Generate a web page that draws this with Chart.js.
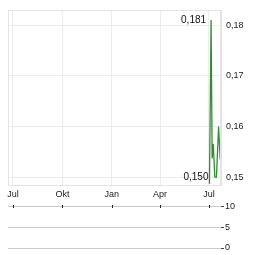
<!DOCTYPE html>
<html><head><meta charset="utf-8">
<script src="https://cdn.jsdelivr.net/npm/chart.js@4/dist/chart.umd.min.js"></script>
<style>
html,body{margin:0;padding:0;background:#fff;width:264px;height:255px;overflow:hidden}
#c1{position:absolute;left:0;top:0}
#c2{position:absolute;left:0;top:200px}
</style></head><body>
<canvas id="c1" width="264" height="202"></canvas>
<canvas id="c2" width="264" height="55"></canvas>
<script>
// --- data (x in days since first Jul 1) ---
const days   = [366, 369, 371, 373, 376, 379, 383, 386];
const prices = [0.1487, 0.181, 0.1537, 0.1566, 0.150, 0.150, 0.160, 0.1535];
const volume = [0, 0, 0, 0, 0, 0, 0, 0];
const xTickDays   = [0, 92, 184, 274, 365];
const xTickLabels = ['Jul', 'Okt', 'Jan', 'Apr', 'Jul'];
const yTicks   = [0.15, 0.16, 0.17, 0.18];
const volTicks = [0, 5, 10];
const highDay = 369, highValue = 0.181;
const lowDay  = 366, lowValue  = 0.150;

const FONT = 'Liberation Sans, Arial, sans-serif';
const fmt = (v, d) => v.toFixed(d).replace('.', ',');
const X_MIN = -9.3, X_MAX = 387.5;

const framePlugin = {
  id: 'frame',
  afterDraw(chart) {
    const a = chart.chartArea, ctx = chart.ctx;
    ctx.save();
    ctx.strokeStyle = '#e4e4e4';
    ctx.lineWidth = 1;
    ctx.strokeRect(Math.round(a.left) + 0.5, Math.round(a.top) + 0.5,
                   Math.round(a.right - a.left) - 1, Math.round(a.bottom - a.top));
    ctx.restore();
  }
};
const labelPlugin = {
  id: 'hl',
  afterDatasetsDraw(chart) {
    const ctx = chart.ctx, xs = chart.scales.x, ys = chart.scales.y;
    ctx.save();
    ctx.font = '10px ' + FONT;
    ctx.fillStyle = '#111';
    ctx.textAlign = 'right';
    ctx.textBaseline = 'middle';
    ctx.fillText(fmt(highValue, 3), xs.getPixelForValue(highDay) - 5, ys.getPixelForValue(highValue));
    ctx.fillText(fmt(lowValue, 3), xs.getPixelForValue(lowDay) - 1, ys.getPixelForValue(lowValue));
    ctx.restore();
  }
};

new Chart(document.getElementById('c1'), {
  type: 'line',
  data: {
    datasets: [{
      data: days.map((d, i) => ({x: d, y: prices[i]})),
      borderColor: '#2f8f2f',
      borderWidth: 1.3,
      pointRadius: 0,
      tension: 0,
      fill: false
    }]
  },
  options: {
    responsive: false, animation: false,
    layout: {padding: {top: 7, left: 8, right: 0, bottom: 0}},
    plugins: {legend: {display: false}, tooltip: {enabled: false}},
    scales: {
      x: {
        type: 'linear', min: X_MIN, max: X_MAX,
        afterBuildTicks: s => { s.ticks = xTickDays.map(v => ({value: v})); },
        afterFit: s => { s.height = 17; },
        grid: {color: '#ececec', drawTicks: false},
        border: {color: '#e4e4e4'},
        ticks: {padding: 4, maxRotation: 0, autoSkip: false, color: '#222',
                font: {size: 9, family: FONT},
                callback: (v, i) => xTickLabels[i]}
      },
      y: {
        position: 'right', min: 0.14845, max: 0.1829,
        afterBuildTicks: s => { s.ticks = yTicks.map(v => ({value: v})); },
        afterFit: s => { s.width = 43; },
        grid: {color: '#ececec', drawTicks: false},
        border: {color: '#e4e4e4'},
        ticks: {padding: 5, color: '#222', font: {size: 9, family: FONT},
                callback: v => fmt(v, 2)}
      }
    }
  },
  plugins: [framePlugin, labelPlugin]
});

const volTickPlugin = {
  id: 'vt',
  afterDraw(chart) {
    const ctx = chart.ctx, xs = chart.scales.x, a = chart.chartArea;
    ctx.save();
    ctx.fillStyle = '#222';
    xTickDays.forEach(d => {
      const px = Math.round(xs.getPixelForValue(d));
      ctx.fillRect(px, Math.round(a.top) - 1, 1, 3);
    });
    ctx.restore();
  }
};

new Chart(document.getElementById('c2'), {
  type: 'bar',
  data: {
    datasets: [{
      data: days.map((d, i) => ({x: d, y: volume[i]})),
      backgroundColor: '#2f8f2f'
    }]
  },
  options: {
    responsive: false, animation: false,
    layout: {padding: {top: 6, left: 8, right: 0, bottom: 7}},
    plugins: {legend: {display: false}, tooltip: {enabled: false}},
    scales: {
      x: {type: 'linear', min: X_MIN, max: X_MAX, offset: false, display: false},
      y: {
        position: 'right', min: 0, max: 10,
        afterBuildTicks: s => { s.ticks = volTicks.map(v => ({value: v})); },
        afterFit: s => { s.width = 43; },
        grid: {color: '#cccccc', drawTicks: true, tickLength: 3, tickColor: '#444'},
        border: {display: false},
        ticks: {padding: 1, color: '#222', font: {size: 9, family: FONT}}
      }
    }
  },
  plugins: [volTickPlugin]
});
</script>
</body></html>
